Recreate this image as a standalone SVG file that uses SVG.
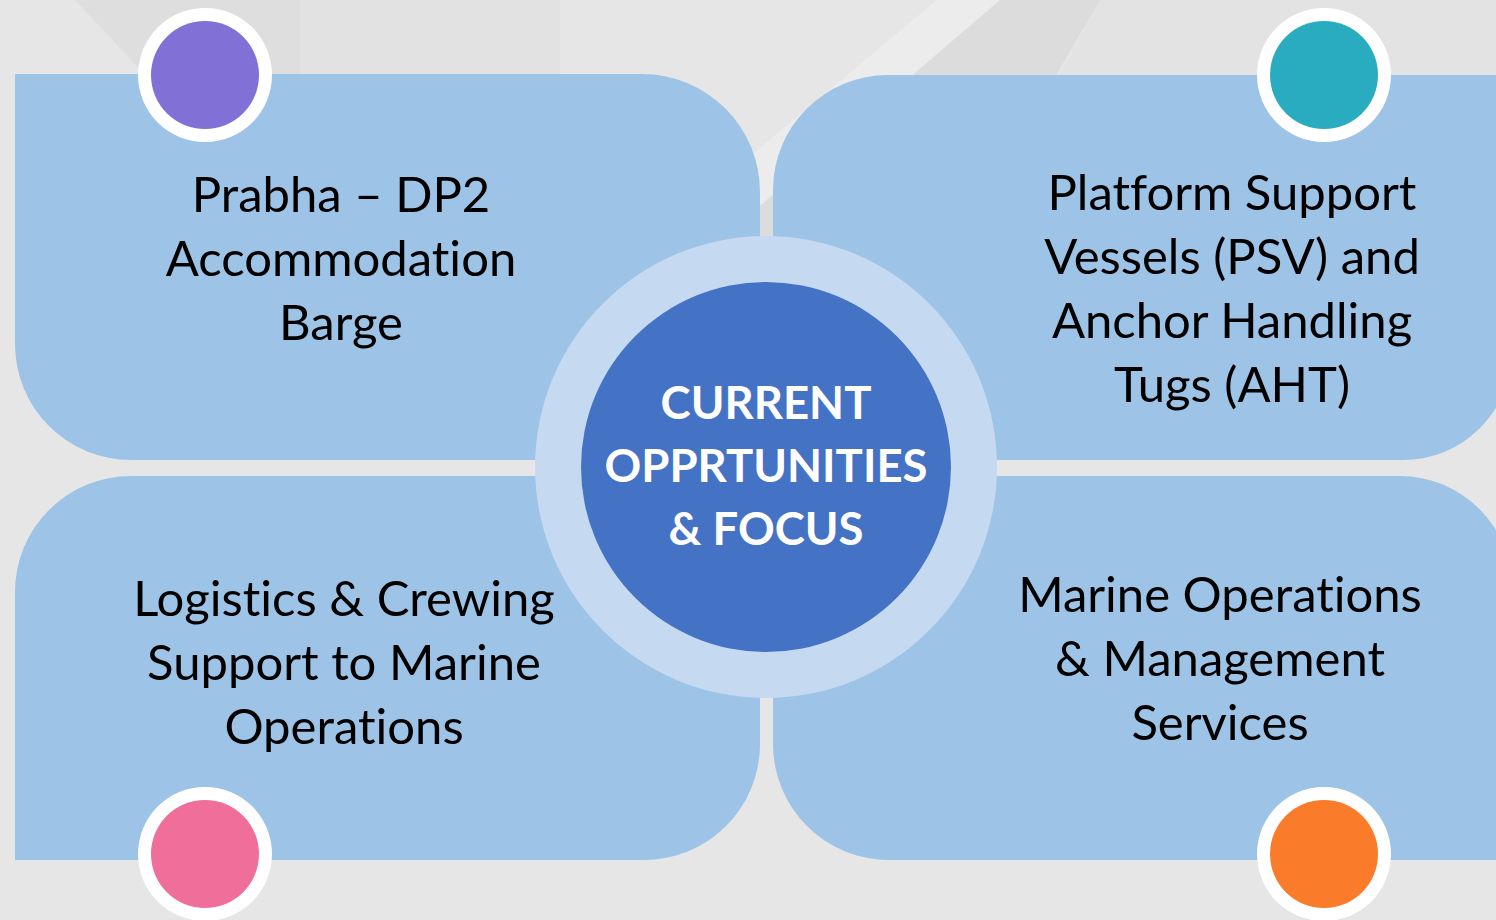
<svg xmlns="http://www.w3.org/2000/svg" width="1496" height="920" viewBox="0 0 1496 920">
  <style>
    .panel { fill: #9dc3e6; }
    .lbl { font-family: Lato, "Open Sans", "Liberation Sans", sans-serif; font-size: 49px; fill: #000000; text-anchor: middle; font-variant-ligatures: none; }
    .ctr { font-family: Lato, "Open Sans", "Liberation Sans", sans-serif; font-size: 45.5px; font-weight: bold; fill: #ffffff; text-anchor: middle; font-variant-ligatures: none; }
    .halo { fill: #ffffff; }
  </style>
  <rect x="0" y="0" width="1496" height="920" fill="#e6e6e6"/>
  <g id="background">
    <polygon points="75,0 300,0 300,80 150,80" fill="#d4d4d4" opacity="0.45"/>
    <polygon points="300,0 560,0 560,80 300,80" fill="#dcdcdc" opacity="0.4"/>
    <polygon points="937,0 1000,0 720,240 650,240" fill="#f0f0f0" opacity="0.6"/>
    <polygon points="1000,0 1100,0 960,240 720,240" fill="#d0d0d0" opacity="0.45"/>
    <polygon points="1100,0 1496,0 1496,75 1060,75" fill="#e0e0e0" opacity="0.5"/>
  </g>
  <g id="panel-tl">
    <path class="panel" d="M15,74 H642 A118,118 0 0 1 760,192 V460 H131 A116,116 0 0 1 15,344 Z"/>
    <text class="lbl" x="341" y="212">Prabha – DP2</text>
    <text class="lbl" x="341" y="276">Accommodation</text>
    <text class="lbl" x="341" y="340">Barge</text>
  </g>
  <g id="panel-tr">
    <path class="panel" d="M773,190 A115,115 0 0 1 888,75 H1512 V351 A109,109 0 0 1 1403,460 H773 Z"/>
    <text class="lbl" x="1232" y="210">Platform Support</text>
    <text class="lbl" x="1232" y="274">Vessels (PSV) and</text>
    <text class="lbl" x="1232" y="338">Anchor Handling</text>
    <text class="lbl" x="1232" y="402">Tugs (AHT)</text>
  </g>
  <g id="panel-bl">
    <path class="panel" d="M15,592 A116,116 0 0 1 131,476 H760 V744 A116,116 0 0 1 644,860 H15 Z"/>
    <text class="lbl" x="344" y="616">Logistics &amp; Crewing</text>
    <text class="lbl" x="344" y="680">Support to Marine</text>
    <text class="lbl" x="344" y="744">Operations</text>
  </g>
  <g id="panel-br">
    <path class="panel" d="M773,476 H1400 A112,112 0 0 1 1512,588 V860 H889 A116,116 0 0 1 773,744 Z"/>
    <text class="lbl" x="1220" y="612">Marine Operations</text>
    <text class="lbl" x="1220" y="676">&amp; Management</text>
    <text class="lbl" x="1220" y="740">Services</text>
  </g>
  <g id="connectors"></g>
  <g id="center">
    <circle cx="766" cy="467" r="231" fill="#c5daf0"/>
    <circle cx="766" cy="467" r="185" fill="#4472c4"/>
    <text class="ctr" x="766" y="419">CURRENT</text>
    <text class="ctr" x="766" y="482">OPPRTUNITIES</text>
    <text class="ctr" x="766" y="545">&amp; FOCUS</text>
  </g>
  <g id="dot-tl">
    <circle class="halo" cx="205" cy="75" r="67"/>
    <circle cx="205" cy="75" r="54" fill="#8171d6"/>
  </g>
  <g id="dot-tr">
    <circle class="halo" cx="1324" cy="75" r="67"/>
    <circle cx="1324" cy="75" r="54" fill="#2aacc0"/>
  </g>
  <g id="dot-bl">
    <circle class="halo" cx="205" cy="854" r="67"/>
    <circle cx="205" cy="854" r="54" fill="#f06f9a"/>
  </g>
  <g id="dot-br">
    <circle class="halo" cx="1324" cy="854" r="67"/>
    <circle cx="1324" cy="854" r="54" fill="#fa7b2a"/>
  </g>
</svg>
